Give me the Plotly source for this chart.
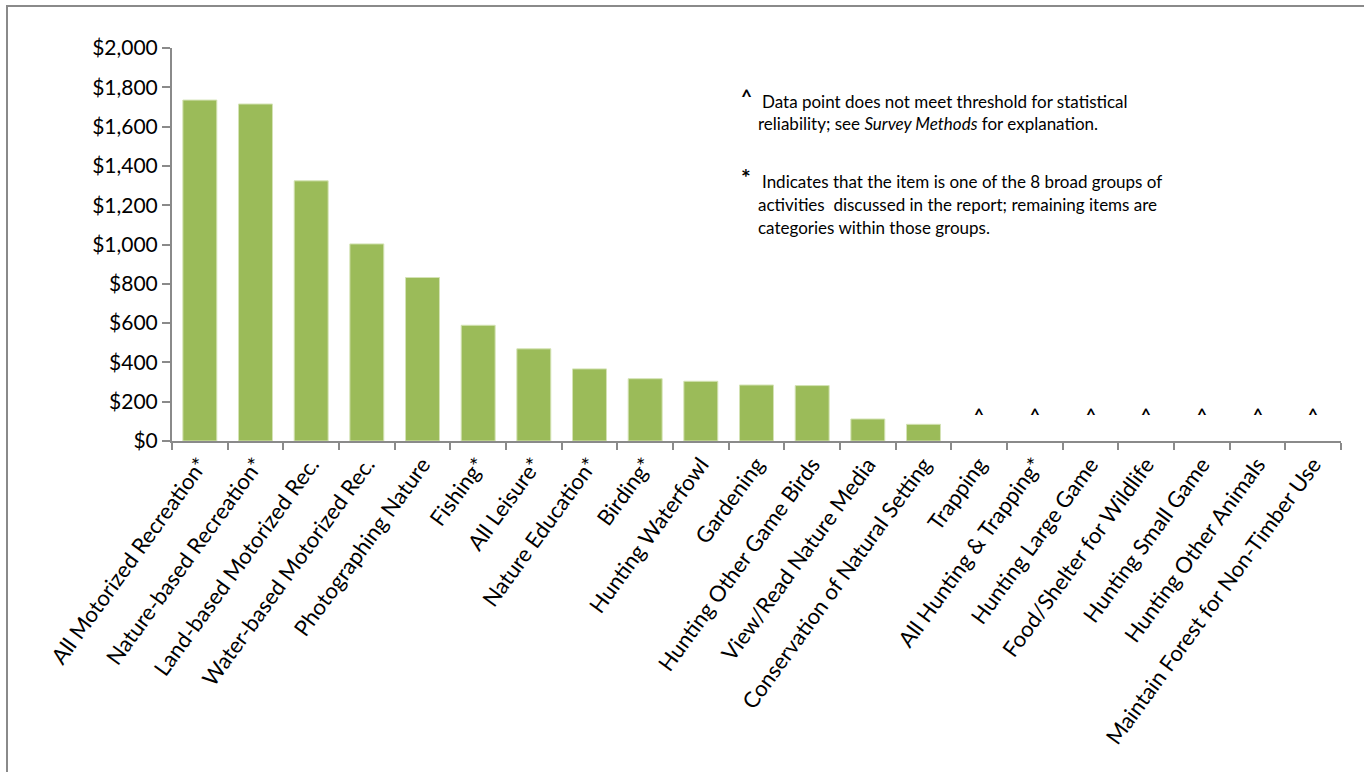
import plotly.graph_objects as go

categories = [
    "All Motorized Recreation*", "Nature-based Recreation*", "Land-based Motorized Rec.",
    "Water-based Motorized Rec.", "Photographing Nature", "Fishing*", "All Leisure*",
    "Nature Education*", "Birding*", "Hunting Waterfowl", "Gardening",
    "Hunting Other Game Birds", "View/Read Nature Media", "Conservation of Natural Setting",
    "Trapping", "All Hunting & Trapping*", "Hunting Large Game", "Food/Shelter for Wildlife",
    "Hunting Small Game", "Hunting Other Animals", "Maintain Forest for Non-Timber Use",
]
values = [1735, 1715, 1324, 1003, 832, 589, 469, 367, 317, 304, 285, 282, 112, 85,
          None, None, None, None, None, None, None]
unreliable_mark = "^"

y_ticks = [0, 200, 400, 600, 800, 1000, 1200, 1400, 1600, 1800, 2000]
y_ticklabels = ["$0", "$200", "$400", "$600", "$800", "$1,000", "$1,200", "$1,400",
                "$1,600", "$1,800", "$2,000"]

note_caret = ["Data point does not meet threshold for statistical",
              "reliability; see <i>Survey Methods</i> for explanation."]
note_star = ["Indicates that the item is one of the 8 broad groups of",
             "activities  discussed in the report; remaining items are",
             "categories within those groups."]

FONT = "Lato"
GREY = "#8a8a8a"

fig = go.Figure()
fig.add_trace(go.Bar(
    x=categories, y=values,
    marker=dict(color="#9BBB59", line=dict(color="#d4e3b5", width=1)),
    width=0.61,
))

annotations = []
for c, v in zip(categories, values):
    if v is None:
        annotations.append(dict(x=c, y=0, xref="x", yref="y", text="<b>" + unreliable_mark + "</b>",
                                showarrow=False, yanchor="bottom", yshift=14,
                                font=dict(family=FONT, size=17, color="#000")))

# notes (paper coordinates relative to plot area)
L, T, W, H = 172, 48, 1169, 393
def px(x):
    return (x - L) / W
def py(y):
    return (T + H - y) / H

annotations.append(dict(x=px(739), y=py(97), xref="paper", yref="paper", text="<b>^</b>",
                        showarrow=False, xanchor="left", yanchor="middle",
                        font=dict(family=FONT, size=19, color="#000")))
for i, line in enumerate(note_caret):
    annotations.append(dict(x=px(760 if i == 0 else 756), y=py(101 + 23 * i), xref="paper", yref="paper",
                            text=line, showarrow=False, xanchor="left", yanchor="middle",
                            font=dict(family=FONT, size=17, color="#000")))
annotations.append(dict(x=px(739), y=py(177), xref="paper", yref="paper", text="<b>*</b>",
                        showarrow=False, xanchor="left", yanchor="middle",
                        font=dict(family=FONT, size=23, color="#000")))
for i, line in enumerate(note_star):
    annotations.append(dict(x=px(760 if i == 0 else 756), y=py(181 + 23 * i), xref="paper", yref="paper",
                            text=line, showarrow=False, xanchor="left", yanchor="middle",
                            font=dict(family=FONT, size=17, color="#000")))

fig.update_layout(
    width=1364, height=772,
    margin=dict(l=L, r=1364 - L - W, t=T, b=772 - T - H, autoexpand=False),
    paper_bgcolor="white", plot_bgcolor="white",
    showlegend=False,
    font=dict(family=FONT, color="#000"),
    annotations=annotations,
    shapes=[
        dict(type="line", xref="paper", yref="paper", x0=px(6), x1=px(1364), y0=py(6), y1=py(6),
             line=dict(color=GREY, width=2)),
        dict(type="line", xref="paper", yref="paper", x0=px(7), x1=px(7), y0=py(6), y1=py(772),
             line=dict(color=GREY, width=2)),
    ],
    xaxis=dict(
        type="category", tickangle=-54, tickson="boundaries",
        ticks="outside", ticklen=7, tickcolor=GREY, tickwidth=1.5,
        showline=True, linecolor=GREY, linewidth=2,
        showgrid=False, tickfont=dict(family=FONT, size=22, color="#000"),
    ),
    yaxis=dict(
        range=[0, 2000], tickvals=y_ticks, ticktext=y_ticklabels,
        ticks="outside", ticklen=8, tickcolor=GREY, tickwidth=1.5,
        showline=True, linecolor=GREY, linewidth=2, showgrid=False, zeroline=False,
        tickfont=dict(family=FONT, size=21, color="#000"),
    ),
)

fig.write_html("out.html", config={"displayModeBar": False},
               post_script="document.body.style.margin='0';document.body.style.overflow='hidden';")
